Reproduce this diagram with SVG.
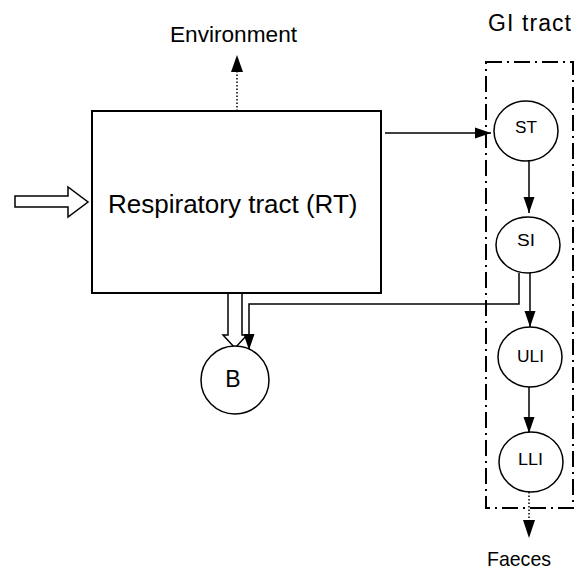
<svg xmlns="http://www.w3.org/2000/svg" width="583" height="571" viewBox="0 0 583 571">
<defs>
<marker id="ah" markerWidth="16" markerHeight="12" viewBox="0 0 16 12" refX="16" refY="6" orient="auto" markerUnits="userSpaceOnUse">
<path d="M0,0.5 L16,6 L0,11.5 z" fill="#000"/>
</marker>
<style>
.lbl{font-family:"Liberation Sans",Arial,sans-serif;fill:#000}
.small{font-size:16px}
.node{fill:#fff;stroke:#000;stroke-width:1.5}
.conn{fill:none;stroke:#000;stroke-width:1.5}
.dot{fill:none;stroke:#000;stroke-width:1.5;stroke-dasharray:1.5 2}
.hollow{fill:#fff;stroke:#000;stroke-width:1.5;stroke-linejoin:miter}
</style>
</defs>
<rect width="583" height="571" fill="#fff"/>

<g id="gi-tract">
<rect x="486" y="62" width="87" height="446" fill="none" stroke="#000" stroke-width="2" stroke-dasharray="16 5 2 5"/>
<text class="lbl" font-size="23" x="488" y="31" textLength="83" lengthAdjust="spacing">GI tract</text>
</g>

<g id="connectors">
<path class="hollow" d="M15,196 L68,196 L68,187 L88,202 L68,217 L68,207 L15,207 z"/>
<line class="dot" x1="237" y1="111" x2="237" y2="60"/>
<path d="M231,72 L237,55 L243,72 z" fill="#000"/>
<line class="conn" x1="385" y1="133" x2="491" y2="133" marker-end="url(#ah)"/>
<path class="hollow" d="M228,293 L228,335 L223,335 L235,348 L247,335 L242,335 L242,293"/>
<polyline class="conn" points="519,273 519,304 249,304 249,350" marker-end="url(#ah)"/>
<line class="conn" x1="529" y1="160" x2="529" y2="213" marker-end="url(#ah)"/>
<line class="conn" x1="530" y1="273" x2="530" y2="327" marker-end="url(#ah)"/>
<line class="conn" x1="529" y1="387" x2="529" y2="433" marker-end="url(#ah)"/>
<line class="dot" x1="529" y1="492" x2="529" y2="525"/>
<path d="M523,520 L529,538 L535,520 z" fill="#000"/>
</g>

<g id="rt">
<rect x="92" y="111" width="289" height="182" fill="#fff" stroke="#000" stroke-width="2"/>
<text class="lbl" font-size="26" x="108" y="213">Respiratory tract (RT)</text>
</g>

<g id="env">
<text class="lbl" font-size="22.5" x="170" y="42" textLength="127" lengthAdjust="spacingAndGlyphs">Environment</text>
</g>

<g id="faeces">
<text class="lbl" font-size="21" x="487" y="566" textLength="64" lengthAdjust="spacingAndGlyphs">Faeces</text>
</g>

<g id="b">
<circle class="node" cx="235" cy="380" r="34"/>
<text class="lbl" font-size="23" x="233" y="387" text-anchor="middle">B</text>
</g>

<g id="st">
<ellipse class="node" cx="526" cy="131" rx="32" ry="30"/>
<text class="lbl small" x="515" y="133" textLength="22" lengthAdjust="spacingAndGlyphs">ST</text>
</g>
<g id="si">
<ellipse class="node" cx="528" cy="245" rx="32" ry="28"/>
<text class="lbl small" x="517" y="246" textLength="18" lengthAdjust="spacingAndGlyphs">SI</text>
</g>
<g id="uli">
<ellipse class="node" cx="530" cy="357" rx="32" ry="30"/>
<text class="lbl small" x="517" y="362" textLength="27" lengthAdjust="spacingAndGlyphs">ULI</text>
</g>
<g id="lli">
<ellipse class="node" cx="531" cy="462" rx="32" ry="30"/>
<text class="lbl small" x="518" y="465" textLength="25" lengthAdjust="spacingAndGlyphs">LLI</text>
</g>
</svg>
